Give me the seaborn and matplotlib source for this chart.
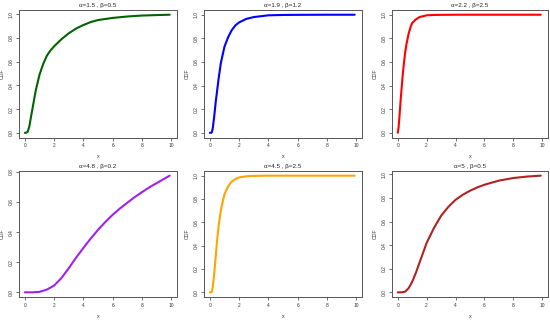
import pandas as pd
import matplotlib
matplotlib.use("Agg")
import matplotlib.pyplot as plt
import seaborn as sns

# values
titles = ["α=1.5 , β=0.5", "α=1.9 , β=1.2", "α=2.2 , β=2.5",
          "α=4.8 , β=0.2", "α=4.5 , β=2.5", "α=5 , β=0.5"]
colors = ["#006400", "#0000FF", "#FF0000", "#A020F0", "#FFA500", "#B22222"]

x1 = [0, 0.1, 0.2, 0.3, 0.4, 0.5, 0.75, 1, 1.25, 1.5, 1.75, 2, 2.5, 3, 3.5, 4, 4.5, 5, 6, 7, 8, 9, 9.9]
cdf1 = [0, 0.0, 0.01, 0.05, 0.12, 0.19, 0.36, 0.49, 0.58, 0.65, 0.695, 0.73, 0.79, 0.84, 0.88, 0.91, 0.935, 0.952, 0.97, 0.982, 0.99, 0.994, 0.997]

x2 = [0, 0.1, 0.15, 0.2, 0.3, 0.4, 0.5, 0.6, 0.75, 1, 1.25, 1.5, 1.75, 2, 2.5, 3, 4, 5, 6, 8, 9.9]
cdf2 = [0, 0.0, 0.01, 0.04, 0.14, 0.26, 0.36, 0.46, 0.59, 0.73, 0.81, 0.87, 0.91, 0.935, 0.965, 0.98, 0.995, 0.998, 0.999, 1.0, 1.0]

x3 = [0, 0.05, 0.1, 0.2, 0.3, 0.35, 0.4, 0.5, 0.6, 0.75, 0.9, 1, 1.25, 1.5, 2, 2.5, 3, 4, 6, 8, 9.9]
cdf3 = [0, 0.04, 0.11, 0.28, 0.43, 0.5, 0.56, 0.67, 0.75, 0.84, 0.9, 0.93, 0.96, 0.98, 0.995, 0.998, 0.999, 1.0, 1.0, 1.0, 1.0]

x4 = [0, 0.5, 1, 1.5, 2, 2.5, 3, 3.5, 4, 4.5, 5, 5.5, 6, 6.5, 7, 7.5, 8, 8.5, 9, 9.5, 9.9]
cdf4 = [0, 0.0, 0.003, 0.018, 0.045, 0.095, 0.16, 0.23, 0.295, 0.357, 0.415, 0.467, 0.515, 0.557, 0.595, 0.632, 0.665, 0.697, 0.725, 0.753, 0.775]

x5 = [0, 0.1, 0.15, 0.2, 0.3, 0.4, 0.5, 0.6, 0.75, 0.9, 1, 1.25, 1.5, 1.75, 2, 2.5, 3, 4, 6, 8, 9.9]
cdf5 = [0, 0.0, 0.01, 0.05, 0.16, 0.31, 0.45, 0.57, 0.70, 0.79, 0.84, 0.91, 0.95, 0.972, 0.985, 0.995, 0.998, 1.0, 1.0, 1.0, 1.0]

x6 = [0, 0.25, 0.5, 0.75, 1, 1.25, 1.5, 1.75, 2, 2.5, 3, 3.5, 4, 4.5, 5, 5.5, 6, 7, 8, 9, 9.9]
cdf6 = [0, 0.0, 0.005, 0.035, 0.09, 0.165, 0.25, 0.335, 0.42, 0.545, 0.65, 0.725, 0.785, 0.828, 0.862, 0.89, 0.913, 0.948, 0.97, 0.983, 0.99]

xs = [x1, x2, x3, x4, x5, x6]
ys = [cdf1, cdf2, cdf3, cdf4, cdf5, cdf6]

sns.set_theme(style="white")
plt.rcParams['font.family'] = ['Liberation Sans', 'DejaVu Sans']

fig = plt.figure(figsize=(5.5, 3.21), dpi=100)
W, H = 550, 321
lefts = [19, 204, 392]
widths = [158, 158, 156]
tops = [10, 171]
heights = [127.5, 126]

for i in range(6):
    r, c = divmod(i, 3)
    ax = fig.add_axes([lefts[c] / W, 1 - (tops[r] + heights[r]) / H,
                       widths[c] / W, heights[r] / H])
    df = pd.DataFrame({"x": xs[i], "CDF": ys[i]})
    sns.lineplot(data=df, x="x", y="CDF", color=colors[i], linewidth=1.5, ax=ax)
    ymax = max(ys[i])
    ax.set_xlim(-0.4, 10.4)
    ax.set_ylim(-0.04 * ymax, ymax * 1.04)
    ax.set_xticks([0, 2, 4, 6, 8, 10])
    ax.set_xticklabels(["0", "2", "4", "6", "8", "10"])
    yt = [v / 10 for v in range(0, 11, 2) if v / 10 <= ymax * 1.04 + 1e-9]
    ax.set_yticks(yt)
    ax.set_yticklabels([f"{v:.1f}" for v in yt], rotation=90, va="center")
    ax.tick_params(axis="both", which="both", direction="out", length=2.5, width=0.6,
                   color="#555555", labelsize=3.5, pad=1.5, bottom=True, left=True,
                   labelcolor="#333333")
    for s in ax.spines.values():
        s.set_color("#555555")
        s.set_linewidth(0.7)
    ax.set_xlabel("x", fontsize=3.8, color="#333333")
    ax.set_ylabel("CDF", fontsize=3.8, color="#333333")
    ax.xaxis.set_label_coords(0.5, -17 / heights[r])
    ax.yaxis.set_label_coords(-14 / widths[c], 0.5)
    ax.set_title(titles[i], fontsize=4.5, pad=2.5, color="#222222")
    ax.grid(False)

fig.savefig("out.png", dpi=100, facecolor="white")
